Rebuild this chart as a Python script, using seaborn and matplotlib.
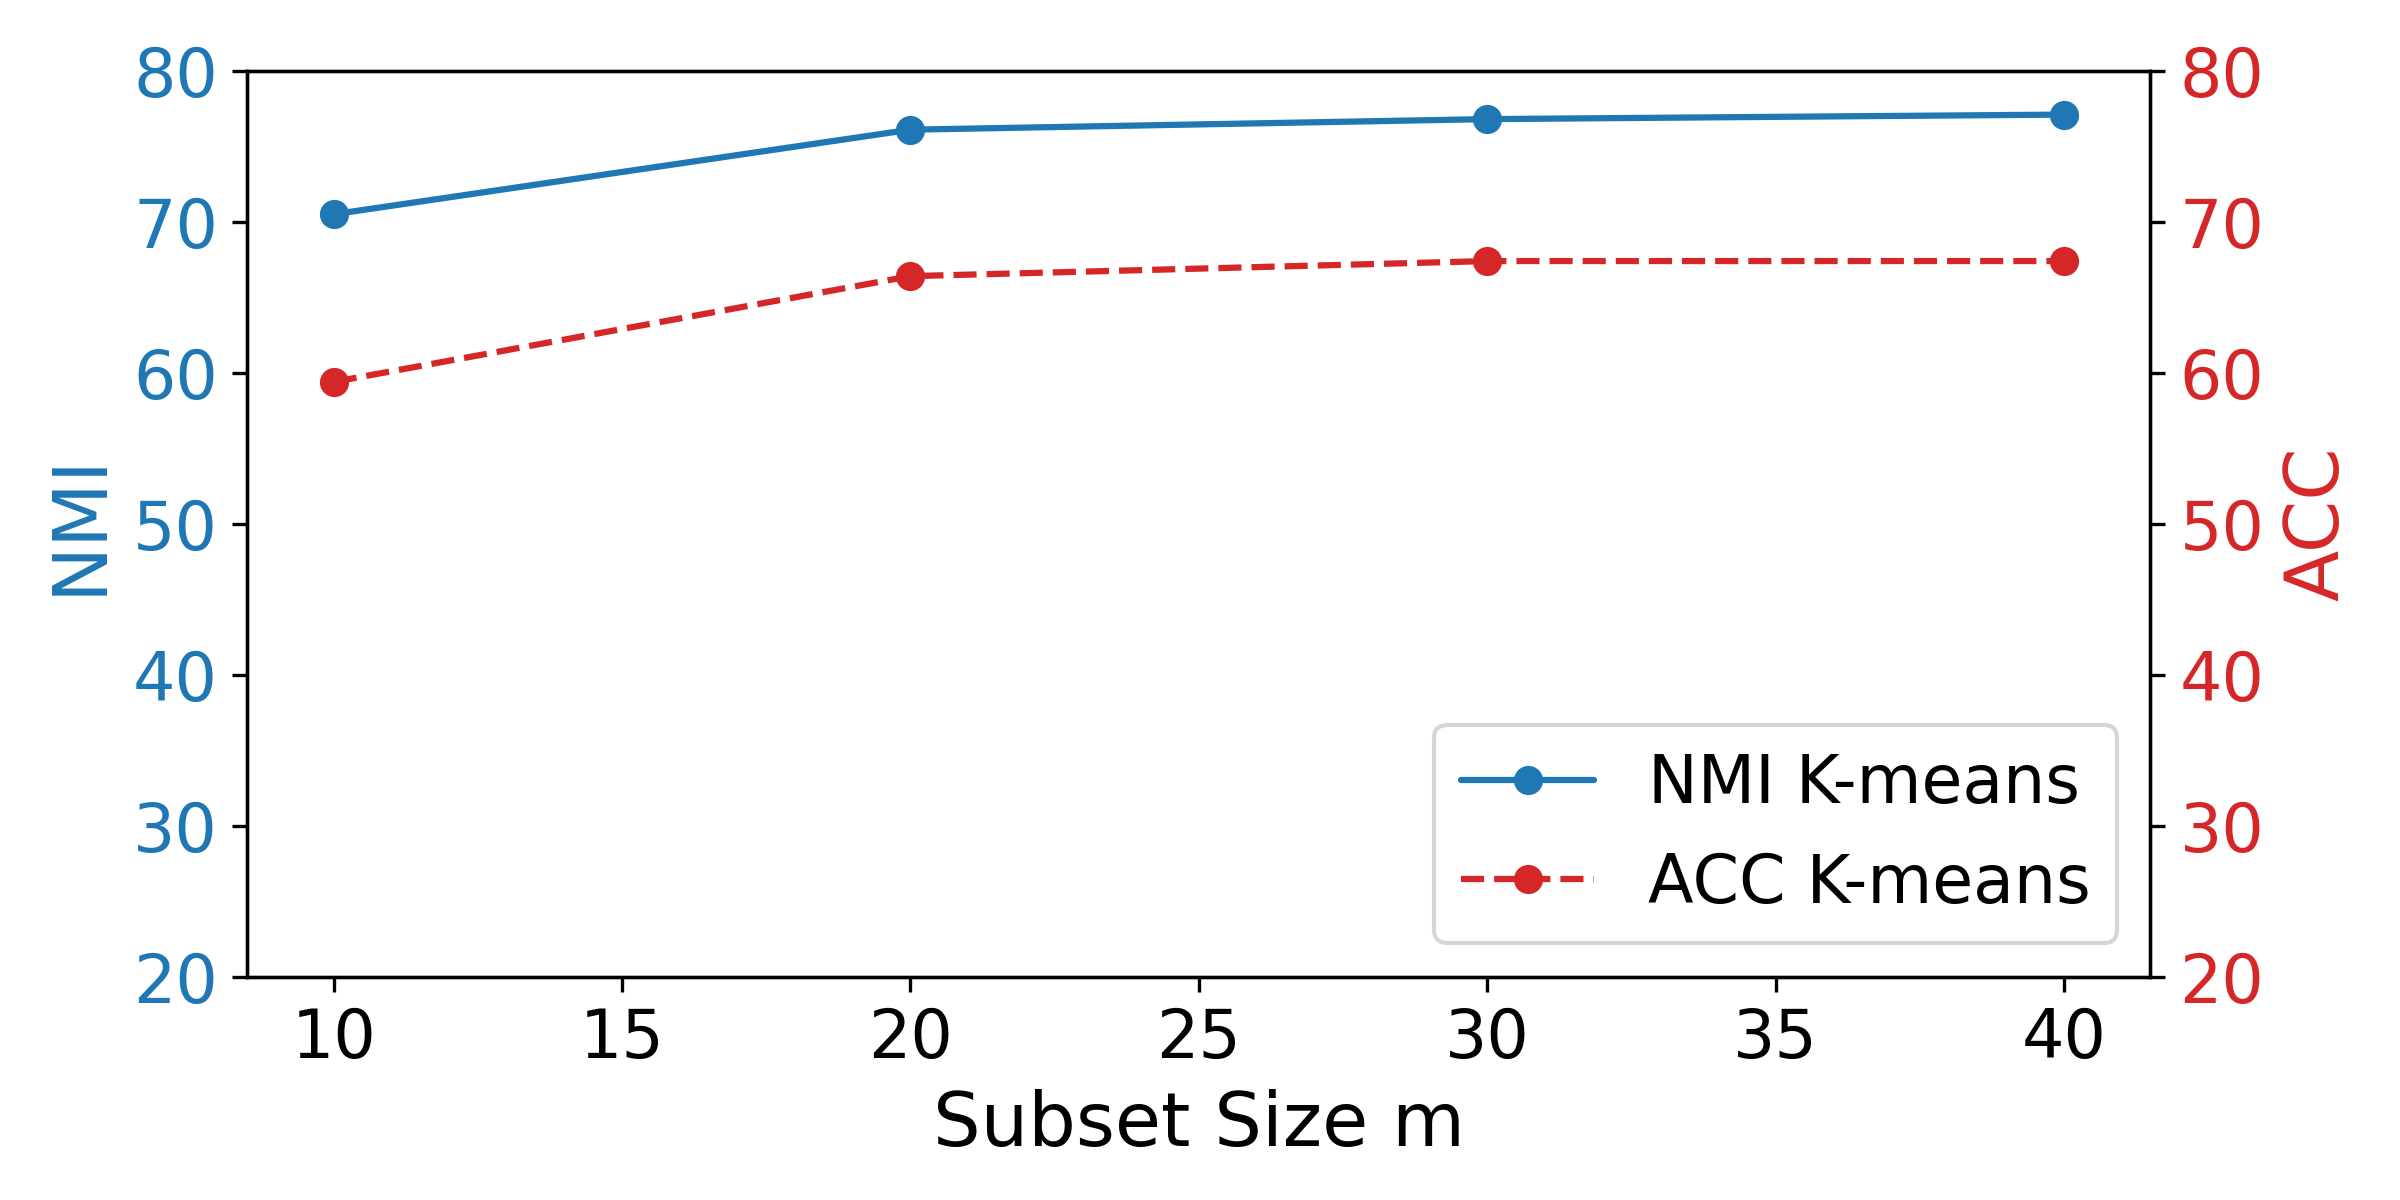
import matplotlib
matplotlib.use("Agg")
import matplotlib.pyplot as plt
import seaborn as sns
import pandas as pd

subset_sizes = [10, 20, 30, 40]
nmi_kmeans = [70.5, 76.1, 76.8, 77.1]
acc_kmeans = [59.4, 66.4, 67.4, 67.4]

sns.set_style("ticks")
plt.rcParams['font.family'] = ['DejaVu Sans']
plt.rcParams['text.color'] = 'black'
plt.rcParams['axes.labelcolor'] = 'black'
plt.rcParams['xtick.color'] = 'black'
plt.rcParams['ytick.color'] = 'black'

blue = "#1f77b4"
red = "#d62728"

fig = plt.figure(figsize=(8, 4), dpi=300)
ax = fig.add_axes([0.103, 0.186, 0.793, 0.755])
ax2 = ax.twinx()

df = pd.DataFrame({"m": subset_sizes, "NMI": nmi_kmeans, "ACC": acc_kmeans})
sns.lineplot(data=df, x="m", y="NMI", ax=ax, color=blue, marker="o",
             markersize=7, markeredgewidth=0, linewidth=1.5, label="NMI K-means", legend=False)
sns.lineplot(data=df, x="m", y="ACC", ax=ax2, color=red, marker="o",
             markersize=7, markeredgewidth=0, linewidth=1.5, linestyle="--", label="ACC K-means", legend=False)

ax.set_ylim(20, 80)
ax2.set_ylim(20, 80)
ax.set_xlabel("Subset Size m", fontsize=18, color="black")
ax.set_ylabel("NMI", fontsize=18, color=blue)
ax2.set_ylabel("ACC", fontsize=18, color=red)
ax.tick_params(axis='y', labelcolor=blue, labelsize=16, color="black")
ax2.tick_params(axis='y', labelcolor=red, labelsize=16, color="black")
ax.tick_params(axis='x', labelsize=16, labelcolor="black", color="black")
for a in (ax, ax2):
    for s in a.spines.values():
        s.set_visible(True)
        s.set_linewidth(0.8)
        s.set_color("black")

h1, l1 = ax.get_legend_handles_labels()
h2, l2 = ax2.get_legend_handles_labels()
ax2.legend(h1 + h2, l1 + l2, loc="lower right", fontsize=16)

fig.savefig("out.png", dpi=300)
